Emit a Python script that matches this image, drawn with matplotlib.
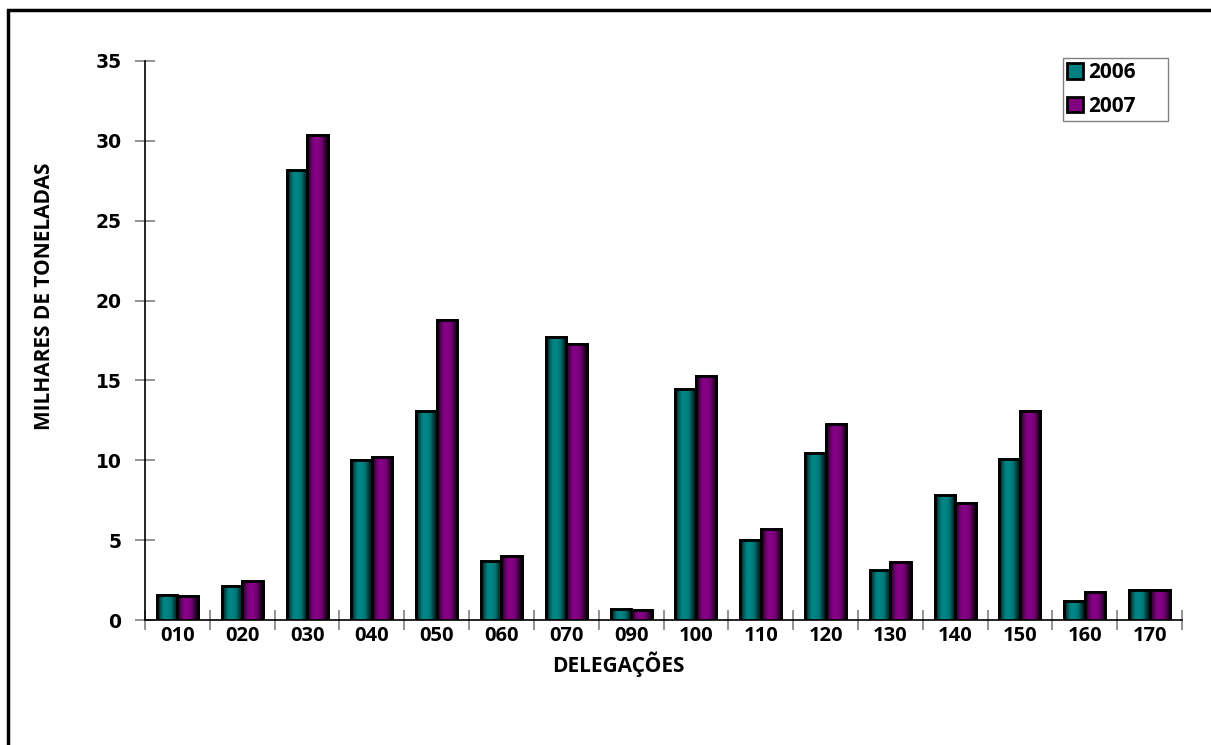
import numpy as np
import matplotlib
matplotlib.use("Agg")
import matplotlib.pyplot as plt
from matplotlib.patches import Rectangle

categories = ["010", "020", "030", "040", "050", "060", "070", "090",
              "100", "110", "120", "130", "140", "150", "160", "170"]
v2006 = [1.55, 2.1, 28.2, 10.0, 13.1, 3.7, 17.7, 0.7,
         14.45, 5.0, 10.45, 3.15, 7.85, 10.1, 1.2, 1.85]
v2007 = [1.5, 2.45, 30.35, 10.2, 18.8, 4.0, 17.3, 0.6,
         15.3, 5.7, 12.3, 3.65, 7.3, 13.1, 1.75, 1.85]
series_names = ["2006", "2007"]
y_ticks = [0, 5, 10, 15, 20, 25, 30, 35]

teal = "#008080"
purple = "#800080"

LBL = "Open Sans"

fig = plt.figure(figsize=(12.11, 7.45), dpi=100)
ax = fig.add_axes([145/1211, 125/745, (1182-145)/1211, (620-61)/745])

x = np.arange(len(categories))
w = 0.316
b1 = ax.bar(x - w/2, v2006, width=w, color=teal, edgecolor="black", linewidth=2.0, zorder=3, label=series_names[0])
b2 = ax.bar(x + w/2, v2007, width=w, color=purple, edgecolor="black", linewidth=2.0, zorder=3, label=series_names[1])

def shade(bars, base):
    rgb = np.array(matplotlib.colors.to_rgb(base))
    prof = np.array([0.3, 0.7, 1.0, 1.05, 1.0, 0.9, 0.55, 0.25])
    grad = np.clip(prof[None, :, None] * rgb[None, None, :], 0, 1)
    for p in bars:
        x0, y0 = p.get_x(), p.get_y()
        ax.imshow(grad, extent=[x0, x0 + p.get_width(), y0, y0 + p.get_height()],
                  aspect="auto", zorder=3.5, interpolation="bilinear")
        ax.add_patch(Rectangle((x0, y0), p.get_width(), p.get_height(), fill=False,
                               edgecolor="black", linewidth=2.0, zorder=4))

shade(b1, teal)
shade(b2, purple)

ax.set_xlim(-0.5, len(categories) - 0.5)
ax.set_ylim(0, 35)
ax.set_aspect("auto")
ax.set_yticks(y_ticks)
ax.set_yticklabels([str(t) for t in y_ticks], fontfamily="DejaVu Sans", fontweight="bold", fontsize=13.5)
ax.set_xticks(x)
ax.set_xticklabels(categories, fontfamily=LBL, fontweight="bold", fontsize=14.5)
ax.set_xticks(np.arange(len(categories) + 1) - 0.5, minor=True)
ax.tick_params(axis="x", which="major", length=0, pad=4)
ax.tick_params(axis="x", which="minor", length=14, direction="inout", color="#808080", width=1.2)
ax.tick_params(axis="y", which="major", length=14, direction="inout", color="#808080", width=1.2, pad=10)

for s in ["top", "right"]:
    ax.spines[s].set_visible(False)
for s in ["left", "bottom"]:
    ax.spines[s].set_color("black")
    ax.spines[s].set_linewidth(1.2)
ax.set_facecolor("white")

fig.text(45/1211, 1 - 296/745, "MILHARES DE TONELADAS", rotation=90, ha="center", va="center",
         fontfamily=LBL, fontweight="bold", fontsize=15)
fig.text(618/1211, 1 - 664/745, "DELEGAÇÕES", ha="center", va="center",
         fontfamily=LBL, fontweight="bold", fontsize=15)

lx0 = (1063 - 145) / (1182 - 145)
lw = (1168 - 1063) / (1182 - 145)
ltop = (620 - 58) / (620 - 61)
leg = ax.legend(handles=[b1, b2], loc="upper left", bbox_to_anchor=(lx0, ltop - 0.1, lw, 0.1), mode="expand",
                frameon=True, fancybox=False, edgecolor="#808080", framealpha=1,
                prop={"family": LBL, "weight": "bold", "size": 15},
                handlelength=0.75, handleheight=0.75, handletextpad=0.25, borderpad=0.2, labelspacing=0.6,
                borderaxespad=0)
leg.get_frame().set_linewidth(1.0)

fig.patches.append(Rectangle((8/1211, -0.1), 1.2, 1 - 10/745 + 0.1, transform=fig.transFigure,
                             fill=False, edgecolor="black", linewidth=2.5))

fig.savefig("out.png", dpi=100, facecolor="white")
